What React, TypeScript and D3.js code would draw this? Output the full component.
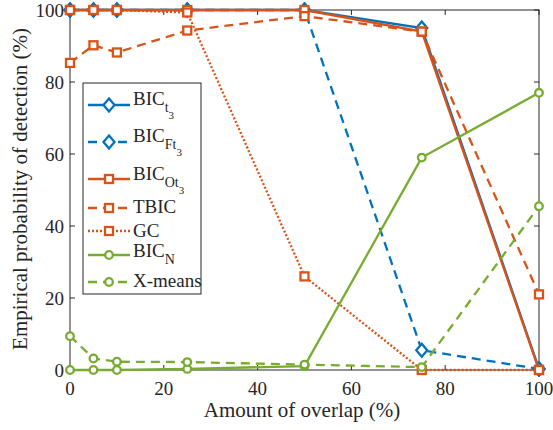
import { useRef, useEffect } from 'react';
import * as d3 from 'd3';

// overlap amount (%) on the x axis
const overlap = [0, 5, 10, 25, 50, 75, 100];

// detection probability (%) for each method
const bicT3 = [100, 100, 100, 100, 100, 95, 0.3];
const bicFt3 = [100, 100, 100, 100, 100, 5.5, 0.3];
const bicOt3 = [100, 100, 100, 100, 100, 94, 0];
const tbic = [85.3, 90.2, 88.2, 94.3, 98.3, 94, 21];
const gc = [100, 100, 100, 99.3, 26, 0, 0];
const bicN = [0, 0, 0, 0.3, 1.1, 59, 77];
const xMeans = [9.4, 3.2, 2.3, 2.2, 1.5, 0.8, 45.5];

const xTicks = [0, 20, 40, 60, 80, 100];
const yTicks = [0, 20, 40, 60, 80, 100];

const BLUE = '#0072BD';
const ORANGE = '#D95319';
const GREEN = '#77AC30';
const AXIS = '#262626';
const FONT = '"Liberation Serif", "Times New Roman", serif';
const LW = 2.3;

const series = [
  { name: 'BIC', sub: 't', subsub: '3', values: bicT3, color: BLUE, dash: null, marker: 'diamond' },
  { name: 'BIC', sub: 'Ft', subsub: '3', values: bicFt3, color: BLUE, dash: '9,6', marker: 'diamond' },
  { name: 'BIC', sub: 'Ot', subsub: '3', values: bicOt3, color: ORANGE, dash: null, marker: 'square' },
  { name: 'TBIC', sub: null, subsub: null, values: tbic, color: ORANGE, dash: '9,6', marker: 'square' },
  { name: 'GC', sub: null, subsub: null, values: gc, color: ORANGE, dash: '2,2', marker: 'square' },
  { name: 'BIC', sub: 'N', subsub: null, values: bicN, color: GREEN, dash: null, marker: 'circle' },
  { name: 'X-means', sub: null, subsub: null, values: xMeans, color: GREEN, dash: '9,6', marker: 'circle' },
];

// legend row layout: line y and text baseline
const legendRows = [
  { ly: 105, by: 105 },
  { ly: 142, by: 142 },
  { ly: 179, by: 180 },
  { ly: 208, by: 213 },
  { ly: 231, by: 237 },
  { ly: 255, by: 257 },
  { ly: 282, by: 287 },
];

const drawMarker = (g, type, cx, cy, color) => {
  if (type === 'diamond') {
    g.append('path')
      .attr('d', `M${cx},${cy - 6.5}L${cx + 5.5},${cy}L${cx},${cy + 6.5}L${cx - 5.5},${cy}Z`)
      .attr('fill', 'white').attr('stroke', color).attr('stroke-width', LW);
  } else if (type === 'square') {
    g.append('rect')
      .attr('x', cx - 4).attr('y', cy - 4).attr('width', 8).attr('height', 8)
      .attr('fill', 'white').attr('stroke', color).attr('stroke-width', LW);
  } else {
    g.append('circle')
      .attr('cx', cx).attr('cy', cy).attr('r', 3.8)
      .attr('fill', 'white').attr('stroke', color).attr('stroke-width', LW);
  }
};

const Chart = () => {
  const svgRef = useRef(null);

  useEffect(() => {
    const svg = d3.select(svgRef.current);
    svg.selectAll('*').remove();

    const x = d3.scaleLinear().domain([0, 100]).range([70, 539]);
    const y = d3.scaleLinear().domain([0, 100]).range([370, 10]);

    const axes = svg.append('g');
    // box
    axes.append('rect')
      .attr('x', x(0)).attr('y', y(100))
      .attr('width', x(100) - x(0)).attr('height', y(0) - y(100))
      .attr('fill', 'none').attr('stroke', AXIS).attr('stroke-width', 1);

    xTicks.forEach(t => {
      axes.append('line').attr('x1', x(t)).attr('x2', x(t)).attr('y1', y(0)).attr('y2', y(0) - 5)
        .attr('stroke', AXIS);
      axes.append('line').attr('x1', x(t)).attr('x2', x(t)).attr('y1', y(100)).attr('y2', y(100) + 5)
        .attr('stroke', AXIS);
      axes.append('text').attr('x', x(t)).attr('y', 395)
        .attr('text-anchor', 'middle').attr('font-size', 19).attr('font-family', FONT)
        .attr('fill', AXIS).text(t);
    });
    yTicks.forEach(t => {
      axes.append('line').attr('x1', x(0)).attr('x2', x(0) + 5).attr('y1', y(t)).attr('y2', y(t))
        .attr('stroke', AXIS);
      axes.append('line').attr('x1', x(100)).attr('x2', x(100) - 5).attr('y1', y(t)).attr('y2', y(t))
        .attr('stroke', AXIS);
      axes.append('text').attr('x', 64).attr('y', y(t) + 6.5)
        .attr('text-anchor', 'end').attr('font-size', 19).attr('font-family', FONT)
        .attr('fill', AXIS).text(t);
    });

    axes.append('text').attr('x', 302).attr('y', 417)
      .attr('text-anchor', 'middle').attr('font-size', 21).attr('font-family', FONT)
      .attr('fill', AXIS).text('Amount of overlap (%)');
    axes.append('text')
      .attr('transform', 'translate(27,189) rotate(-90)')
      .attr('text-anchor', 'middle').attr('font-size', 21).attr('font-family', FONT)
      .attr('fill', AXIS).text('Empirical probability of detection (%)');

    const line = d3.line().x(d => x(d[0])).y(d => y(d[1]));

    const plot = svg.append('g');
    series.forEach(s => {
      const pts = overlap.map((o, i) => [o, s.values[i]]);
      plot.append('path')
        .attr('d', line(pts))
        .attr('fill', 'none').attr('stroke', s.color).attr('stroke-width', LW)
        .attr('stroke-dasharray', s.dash);
      pts.forEach(p => drawMarker(plot, s.marker, x(p[0]), y(p[1]), s.color));
    });

    // legend
    const lg = svg.append('g');
    lg.append('rect').attr('x', 83).attr('y', 83).attr('width', 118).attr('height', 211)
      .attr('fill', 'white').attr('stroke', AXIS).attr('stroke-width', 1);
    series.forEach((s, i) => {
      const r = legendRows[i];
      lg.append('line').attr('x1', 88).attr('x2', 130).attr('y1', r.ly).attr('y2', r.ly)
        .attr('stroke', s.color).attr('stroke-width', LW).attr('stroke-dasharray', s.dash);
      drawMarker(lg, s.marker, 109, r.ly, s.color);
      const t = lg.append('text').attr('x', 133).attr('y', r.by)
        .attr('font-size', 19).attr('font-family', FONT).attr('fill', AXIS);
      t.append('tspan').text(s.name);
      if (s.sub) t.append('tspan').attr('dy', 7).attr('font-size', 14).text(s.sub);
      if (s.subsub) t.append('tspan').attr('dy', 7).attr('font-size', 11).text(s.subsub);
    });
  }, []);

  return (
    <svg ref={svgRef} width="553" height="430"
      style={{ position: 'absolute', left: 0, top: 0, background: 'white' }} />
  );
};

export default function App() {
  return <Chart />;
}
